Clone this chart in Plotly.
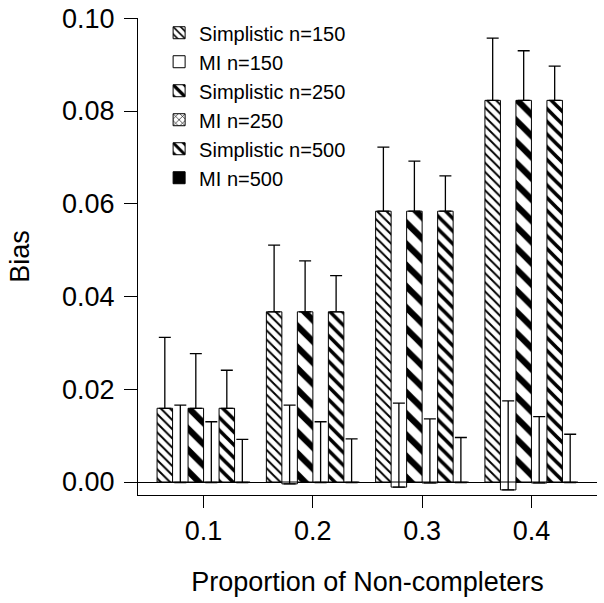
import numpy as np
import plotly.graph_objects as go

categories = ["0.1", "0.2", "0.3", "0.4"]
series_names = ["Simplistic n=150", "MI n=150", "Simplistic n=250",
                "MI n=250", "Simplistic n=500", "MI n=500"]

simp150_mean = [0.0159, 0.0367, 0.0584, 0.0823]
simp150_upper = [0.0312, 0.0511, 0.0722, 0.0957]
mi150_mean = [-0.0001, -0.0004, -0.0011, -0.0017]
mi150_upper = [0.0166, 0.0166, 0.0170, 0.0175]
simp250_mean = [0.0159, 0.0367, 0.0584, 0.0823]
simp250_upper = [0.0277, 0.0477, 0.0692, 0.0930]
mi250_mean = [-0.0001, -0.0001, -0.0002, -0.0002]
mi250_upper = [0.0130, 0.0130, 0.0136, 0.0141]
simp500_mean = [0.0159, 0.0367, 0.0584, 0.0823]
simp500_upper = [0.0241, 0.0445, 0.0660, 0.0897]
mi500_mean = [-0.0001, -0.0001, -0.0001, -0.0001]
mi500_upper = [0.0092, 0.0093, 0.0096, 0.0103]

y_ticks = [0.00, 0.02, 0.04, 0.06, 0.08, 0.10]

means = [simp150_mean, mi150_mean, simp250_mean, mi250_mean, simp500_mean, mi500_mean]
uppers = [simp150_upper, mi150_upper, simp250_upper, mi250_upper, simp500_upper, mi500_upper]

def hatch(shape, size, solidity):
    return dict(shape=shape, size=size, solidity=solidity, fgcolor="#000000",
                bgcolor="#ffffff", fgopacity=1, fillmode="replace")

styles = [
    dict(color="white", pattern=hatch("\\", 6.5, 0.3)),
    dict(color="white"),
    dict(color="white", pattern=hatch("\\", 15, 0.42)),
    dict(color="white", pattern=hatch("x", 6, 0.25)),
    dict(color="white", pattern=hatch("\\", 9, 0.4)),
    dict(color="black"),
]

FONT = "Liberation Sans, Arial, Helvetica, sans-serif"

fig = go.Figure()
for name, m, u, st in zip(series_names, means, uppers, styles):
    err = (np.array(u) - np.array(m)).tolist()
    marker = dict(line=dict(color="black", width=1), **st)
    fig.add_trace(go.Bar(
        x=categories, y=m, name=name, marker=marker,
        error_y=dict(type="data", symmetric=False, array=err,
                     arrayminus=[0] * len(err), color="black",
                     thickness=1.3, width=6),
    ))

fig.update_layout(
    width=604, height=603,
    paper_bgcolor="white", plot_bgcolor="white",
    margin=dict(l=138, r=7, t=18, b=108, autoexpand=False),
    barmode="group", bargap=0.149, bargroupgap=0,
    font=dict(family=FONT, color="black"),
    showlegend=True,
    legend=dict(x=0.046, y=1.01, xanchor="left", yanchor="top",
                font=dict(size=20, family=FONT, color="black"),
                bgcolor="rgba(0,0,0,0)", tracegroupgap=0, itemwidth=30),
    xaxis=dict(
        type="category", range=[-0.6, 3.6], automargin=False,
        showline=True, linecolor="black", linewidth=1,
        ticks="outside", ticklen=12, tickcolor="black",
        tickfont=dict(size=27), showgrid=False, zeroline=False,
        title=dict(text="Proportion of Non-completers", font=dict(size=27), standoff=26),
    ),
    yaxis=dict(
        range=[-0.0028, 0.10006], tickvals=y_ticks, tickformat=".2f", automargin=False,
        showline=True, linecolor="black", linewidth=1,
        ticks="outside", ticklen=13, tickcolor="black", ticklabelstandoff=4,
        ticklabeloverflow="allow",
        tickfont=dict(size=27), showgrid=False,
        zeroline=True, zerolinecolor="black", zerolinewidth=1,
        title=dict(text="Bias", font=dict(size=27), standoff=24),
    ),
)

# remove the browser's default page margin so the figure fills the window
fig.write_html("out.html", config={"displayModeBar": False},
               post_script="document.body.style.margin='0';document.body.style.overflow='hidden';")
